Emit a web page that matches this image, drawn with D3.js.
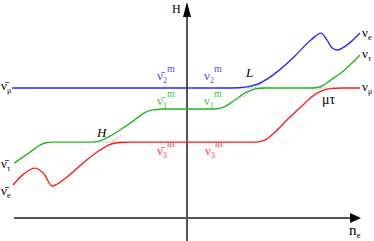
<!DOCTYPE html>
<html>
<head>
<meta charset="utf-8">
<script src="https://cdn.jsdelivr.net/npm/d3@7"></script>
<style>
	body { margin: 0; background: #fff; }
	svg { display: block; }
	text { font-family: "Liberation Serif", "DejaVu Serif", serif; }
</style>
</head>
<body>
<div id="chart"></div>
<script>

// level curves, x = log n_e (0..10), y = H (0..10)
var blueX  = [0, 6.30, 6.70, 7.05, 7.35, 7.60, 8.10, 8.59, 8.88, 9.05, 9.20, 9.34, 9.63, 10];
var blueY  = [6.25, 6.25, 6.29, 6.43, 6.70, 7.00, 7.74, 8.56, 8.89, 8.56, 8.17, 8.08, 8.32, 8.89];

var greenX = [0.06, 0.52, 0.80, 0.98, 1.20, 2.30, 2.55, 2.80, 3.10, 3.50, 3.80, 4.05, 4.40, 5.85, 6.10, 6.40, 6.75, 7.00, 7.25, 8.65, 8.90, 9.15, 9.45, 10];
var greenY = [2.64, 3.17, 3.50, 3.62, 3.65, 3.65, 3.72, 3.92, 4.23, 4.68, 5.05, 5.20, 5.24, 5.24, 5.34, 5.66, 6.06, 6.21, 6.25, 6.25, 6.34, 6.62, 6.97, 7.84];

var redX   = [0.03, 0.34, 0.66, 0.92, 1.15, 1.58, 2.04, 2.53, 2.85, 3.10, 3.40, 7.00, 7.25, 7.53, 7.90, 8.30, 8.62, 8.90, 9.15, 9.45, 10];
var redY   = [1.59, 2.12, 2.40, 2.12, 1.54, 1.97, 2.64, 3.27, 3.55, 3.63, 3.65, 3.65, 3.73, 4.09, 4.71, 5.34, 5.83, 6.11, 6.22, 6.25, 6.25];

// dotted crossing levels at the resonances H, L and mu-tau
var dotsX  = [[6.50, 7.30], [6.64, 7.21], [8.42, 9.28], [8.56, 9.08], [2.39, 3.39], [2.53, 3.16]];
var dotsY  = [[6.25, 6.25], [5.82, 6.54], [6.25, 6.25], [5.82, 6.54], [3.65, 3.65], [3.22, 3.99]];

var width = 374, height = 241;

var svg = d3.select("#chart").append("svg")
	.attr("width", width).attr("height", height);

var x = d3.scaleLinear().domain([0, 10]).range([12, 360]);
var y = d3.scaleLinear().domain([0, 10]).range([218, 10]);

// axes with arrow heads
svg.append("line")
	.attr("x1", 14).attr("x2", 350).attr("y1", 218).attr("y2", 218)
	.attr("stroke", "#555").attr("stroke-width", 2);
svg.append("path")
	.attr("d", "M350,213 L361,218 L350,223 Z").attr("fill", "#000");

svg.append("line")
	.attr("x1", 187).attr("x2", 187).attr("y1", 241).attr("y2", 14)
	.attr("stroke", "#555").attr("stroke-width", 2);
svg.append("path")
	.attr("d", "M183,17 L187,2 L191,17 Z").attr("fill", "#000");

svg.append("text").attr("x", 172).attr("y", 13)
	.attr("font-size", 12).text("H");

var ne = svg.append("text").attr("x", 349).attr("y", 235).attr("font-size", 15);
ne.append("tspan").text("n");
ne.append("tspan").attr("dy", 3).attr("font-size", 9).text("e");

// dotted lines
var line = d3.line()
	.x(function(d){ return x(d[0]); })
	.y(function(d){ return y(d[1]); });

dotsX.forEach(function(xs, i){
	svg.append("path")
		.attr("d", line(d3.zip(xs, dotsY[i])))
		.attr("fill", "none")
		.attr("stroke", "#888")
		.attr("stroke-width", 1)
		.attr("stroke-dasharray", "1,1.5");
});

// level curves
var curve = d3.line()
	.x(function(d){ return x(d[0]); })
	.y(function(d){ return y(d[1]); })
	.curve(d3.curveMonotoneX);

var series = [[blueX, blueY, "#2a2aff"], [greenX, greenY, "#22b522"], [redX, redY, "#ff1a1a"]];
series.forEach(function(s){
	svg.append("path")
		.attr("d", curve(d3.zip(s[0], s[1])))
		.attr("fill", "none")
		.attr("stroke", s[2])
		.attr("stroke-width", 1.4);
});

// nu labels: bar over, subscript, superscript
function nuLabel(px, py, bar, sub, sup, color){
	var t = svg.append("text").attr("x", px).attr("y", py)
		.attr("font-size", 13).attr("fill", color || "#000");
	t.append("tspan").text(bar ? "\u03bd\u0304" : "\u03bd");
	t.append("tspan").attr("dy", 3).attr("font-size", 8).text(sub);
	if (sup) {
		t.append("tspan").attr("dy", -11).attr("font-size", 10).text(sup);
	}
}

nuLabel(1, 90, true, "\u03bc");
nuLabel(1, 168, true, "\u03c4");
nuLabel(1, 195, true, "e");
nuLabel(362, 37, false, "e");
nuLabel(362, 58, false, "\u03c4");
nuLabel(362, 91, false, "\u03bc");

nuLabel(157, 80, true, "2", "m", "#4a4aff");
nuLabel(204, 80, false, "2", "m", "#4a4aff");
nuLabel(157, 105, true, "1", "m", "#3cc43c");
nuLabel(204, 105, false, "1", "m", "#3cc43c");
nuLabel(157, 155, true, "3", "m", "#ff3a3a");
nuLabel(205, 155, false, "3", "m", "#ff3a3a");

svg.append("text").attr("x", 246).attr("y", 77)
	.attr("font-size", 13).attr("font-style", "italic").text("L");
svg.append("text").attr("x", 97).attr("y", 137)
	.attr("font-size", 13).attr("font-style", "italic").text("H");
svg.append("text").attr("x", 322).attr("y", 104)
	.attr("font-size", 14).text("\u03bc\u03c4");

</script>
</body>
</html>
